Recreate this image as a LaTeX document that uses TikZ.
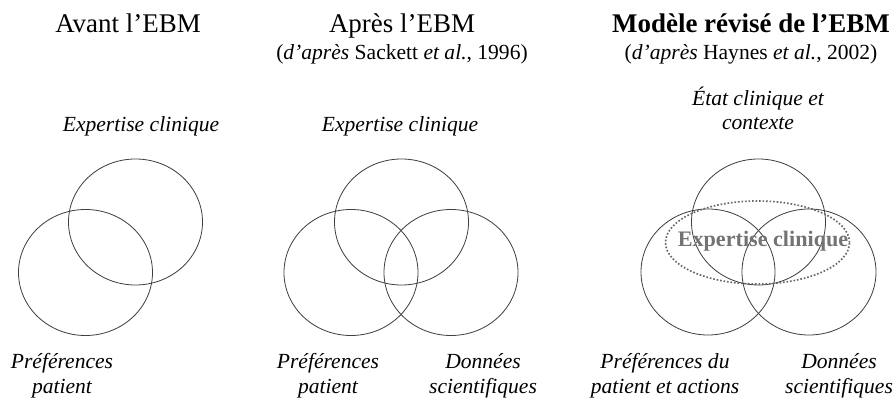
\documentclass[tikz,border=0pt]{standalone}
\usepackage{fontspec}
\setmainfont{Liberation Serif}
\usetikzlibrary{shapes.geometric}

\newcommand{\titlesize}{\fontsize{23}{27}\selectfont}
\newcommand{\labelsize}{\fontsize{18.4}{21}\selectfont}

\begin{document}
\begin{tikzpicture}[x=0.03cm, y=-0.03cm,
	every node/.style={inner sep=0pt, outer sep=0pt},
	titre/.style={anchor=base, font=\titlesize},
	lbl/.style={anchor=base, align=center, font=\labelsize\itshape},
	cercle/.style={ellipse, draw=black!75, line width=0.7pt, minimum width=4.02cm, minimum height=3.78cm}]

\useasboundingbox (0,0) rectangle (893,401);

\node[titre] (t1) at (128,33) {Avant l'EBM};
\node[titre] (t2) at (402,33) {Après l'EBM};
\node[titre, font=\titlesize\bfseries] (t3) at (751,33) {Modèle révisé de l'EBM};
\node[titre, font=\labelsize] (s2) at (402,60) {(\textit{d'après} Sackett \textit{et al.}, 1996)};
\node[titre, font=\labelsize] (s3) at (751,60) {(\textit{d'après} Haynes \textit{et al.}, 2002)};

\foreach \n/\x/\y in {a1/135.5/222, a2/85.5/272.5, b1/401.5/222, b2/351/272.5, b3/451/272.5, c1/758.5/222, c2/708/272, c3/809/272}{
	\node[cercle] (\n) at (\x,\y) {};
}

\node[ellipse, draw=black!60, dash pattern=on 1.4pt off 1.6pt, line width=1.4pt, minimum width=5.52cm, minimum height=2.49cm] (ex) at (757.5,242.5) {};
\node[anchor=base, text=black!55, font=\fontsize{18.9}{22}\selectfont\bfseries] (exl) at (763,247) {Expertise clinique};

\node[lbl] (e1) at (141,132) {Expertise clinique};
\node[lbl] (p1) at (62,393) {Préférences\\patient};

\node[lbl] (e2) at (400,132) {Expertise clinique};
\node[lbl] (p2) at (328,393) {Préférences\\patient};
\node[lbl] (d2) at (483,393) {Données\\scientifiques};

\node[lbl] (e3) at (758,130) {État clinique et\\contexte};
\node[lbl] (p3) at (665,393) {Préférences du\\patient et actions};
\node[lbl] (d3) at (839,393) {Données\\scientifiques};

\end{tikzpicture}
\end{document}
